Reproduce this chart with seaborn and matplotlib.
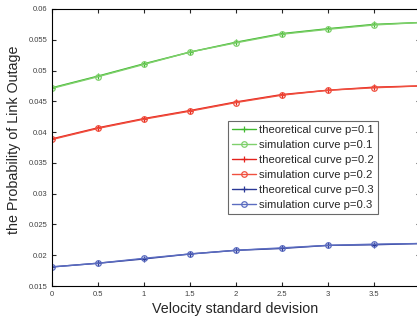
"""
Link outage probability vs velocity standard deviation.
Theoretical and simulated curves for three values of p.
"""

import numpy as np
import pandas as pd
import matplotlib
matplotlib.use('Agg')
import matplotlib.pyplot as plt
from matplotlib.ticker import FuncFormatter
import seaborn as sns

# velocity standard deviation
velocity_std = [0, 0.5, 1, 1.5, 2, 2.5, 3, 3.5, 4]

# theoretical curves
theory_p01 = [0.0472, 0.0491, 0.0511, 0.0530, 0.0546, 0.0560, 0.0568, 0.0575, 0.0578]
theory_p02 = [0.0389, 0.0407, 0.0422, 0.0435, 0.0449, 0.0461, 0.0468, 0.0473, 0.0475]
theory_p03 = [0.0181, 0.0187, 0.0194, 0.0202, 0.0208, 0.0211, 0.0216, 0.0217, 0.0219]

# simulation curves
sim_p01 = [0.0471, 0.0490, 0.0510, 0.0530, 0.0545, 0.0559, 0.0567, 0.0574, 0.0578]
sim_p02 = [0.0388, 0.0406, 0.0421, 0.0434, 0.0448, 0.0460, 0.0468, 0.0472, 0.0475]
sim_p03 = [0.0181, 0.0187, 0.0195, 0.0202, 0.0208, 0.0212, 0.0216, 0.0218, 0.0219]

series = [
    ('theoretical curve p=0.1', theory_p01, '#3fb82e', '+'),
    ('simulation curve p=0.1', sim_p01, '#7fd06c', 'o'),
    ('theoretical curve p=0.2', theory_p02, '#e4221c', '+'),
    ('simulation curve p=0.2', sim_p02, '#f0503f', 'o'),
    ('theoretical curve p=0.3', theory_p03, '#2a3896', '+'),
    ('simulation curve p=0.3', sim_p03, '#5b6cc0', 'o'),
]

sns.set_style('ticks')
plt.rcParams['font.family'] = ['Liberation Sans', 'DejaVu Sans']

fig = plt.figure(figsize=(4.17, 3.21), dpi=100)
ax = fig.add_axes([0.1247, 0.109, 1.007 - 0.1247, 0.972 - 0.109])

for label, values, color, marker in series:
    df = pd.DataFrame({'x': velocity_std, 'y': values})
    sns.lineplot(
        data=df, x='x', y='y', ax=ax, color=color, label=label,
        marker=marker, markersize=5 if marker == '+' else 4,
        markerfacecolor='none', markeredgecolor=color, markeredgewidth=0.9,
        linewidth=1.0,
    )

ax.set_xlim(0, 4)
ax.set_ylim(0.015, 0.06)
ax.set_xticks(np.arange(0, 4, 0.5))
ax.set_yticks(np.arange(0.015, 0.0601, 0.005))
ax.xaxis.set_major_formatter(FuncFormatter(lambda v, _: f'{v:g}'))
ax.yaxis.set_major_formatter(FuncFormatter(lambda v, _: f'{round(v, 3):g}'))
ax.tick_params(direction='in', top=True, right=True, labelsize=5.5,
               labelcolor='#404040', length=3, width=0.8)
for s in ax.spines.values():
    s.set_visible(True)
    s.set_linewidth(0.8)
    s.set_color('black')

ax.set_xlabel('Velocity standard devision', fontsize=10.3)
ax.set_ylabel('the Probability of Link Outage', fontsize=10.3)
ax.xaxis.set_label_coords(0.499, -0.058)
ax.yaxis.set_label_coords(-0.084, 0.529)

leg = ax.legend(loc='upper left', bbox_to_anchor=(0.478, 0.597), fontsize=8.1,
                frameon=True, fancybox=False, handlelength=2.15,
                handletextpad=0.27, labelspacing=0.45, borderpad=0.35,
                borderaxespad=0)
leg.get_frame().set_edgecolor('#444444')
leg.get_frame().set_linewidth(0.8)

fig.savefig('out.png', dpi=100)
